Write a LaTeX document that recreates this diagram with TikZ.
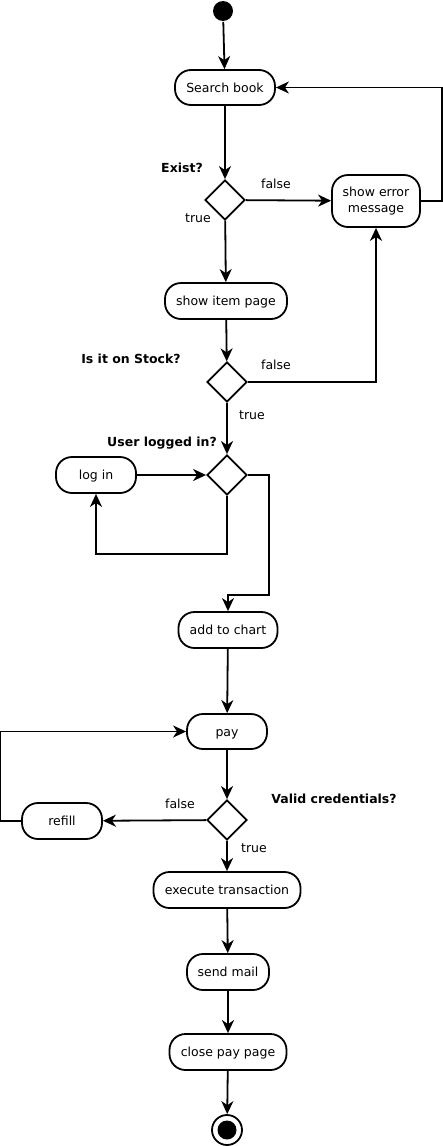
\documentclass[tikz,border=0pt]{standalone}
\usepackage{fontspec}
\setmainfont{DejaVu Sans}
\usepackage{tikz}
\usetikzlibrary{positioning}
\usetikzlibrary{shapes.geometric, arrows.meta}

\begin{document}
\begin{tikzpicture}[
        x=1pt, y=-1pt,
        line width=1.8pt,
        >={Stealth[length=13pt,width=12pt,inset=4pt]},
        every node/.style={font=\fontsize{12.5}{16}\selectfont},
        activity/.style={draw, rectangle, rounded corners=16pt, minimum height=36pt, inner sep=0pt},
        oneline/.style={text height=11pt, text depth=2pt},
        decision/.style={draw, diamond, minimum width=40pt, minimum height=40pt, inner sep=0pt},
        question/.style={font=\fontsize{12.5}{16}\selectfont\bfseries}]

        \useasboundingbox (0,0) rectangle (442,1146);

        \node[circle, fill, minimum size=20pt, inner sep=0pt] (start) at (223,11) {};
        \node[activity, oneline, minimum width=100pt, minimum height=35pt] (search) at (225,87.5) {Search book};
        \node[decision] (exist) at (225,200) {};
        \node[activity, minimum width=88pt, minimum height=52pt, align=center] (error) at (376,201) {show error\\message};
        \node[activity, oneline, minimum width=122pt] (item) at (226,301) {show item page};
        \node[decision] (stock) at (227,382) {};
        \node[decision] (logged) at (227,475) {};
        \node[activity, oneline, minimum width=80pt] (login) at (96,475) {log in};
        \node[activity, oneline, minimum width=99pt] (chart) at (228,630) {add to chart};
        \node[activity, oneline, minimum width=80pt, minimum height=35pt] (pay) at (227,731.5) {pay};
        \node[decision] (valid) at (227,820) {};
        \node[activity, oneline, minimum width=80pt] (refill) at (62,821) {refill};
        \node[activity, oneline, minimum width=147pt] (exec) at (227,890) {execute transaction};
        \node[activity, oneline, minimum width=82pt] (mail) at (228,972) {send mail};
        \node[activity, oneline, minimum width=117pt] (close) at (228,1052) {close pay page};
        \node[circle, draw, minimum size=30pt, inner sep=0pt] (end) at (227,1130) {};
        \node[circle, fill, minimum size=19pt, inner sep=0pt] at (end) {};

        % questions and guards
        \node[question] (qexist) at (182,168) {Exist?};
        \node[question] (qstock) at (131,359) {Is it on Stock?};
        \node[question] (qlogged) at (162,443) {User logged in?};
        \node[question] (qvalid) at (334,799) {Valid credentials?};
        \node (f1) at (276,184) {false};
        \node (t1) at (198,218) {true};
        \node (f2) at (276,365) {false};
        \node (t2) at (252,415) {true};
        \node (f3) at (180,804) {false};
        \node (t3) at (254,848) {true};

        \draw[->] (start) -- (search);
        \draw[->] (search) -- (exist);
        \draw[->] (exist) -- (error);
        \draw[->] (error.east) -- ++(21,0) |- (search.east);
        \draw[->] (exist) -- (item);
        \draw[->] (item) -- (stock);
        \draw[->] (stock.east) -| (error.south);
        \draw[->] (stock) -- (logged);
        \draw[->] (login) -- (logged);
        \draw[->] (logged.south) -- ++(0,58) -| (login.south);
        \draw[->] (logged.east) -- ++(21,0) -- ++(0,120) -| (chart.north);
        \draw[->] (chart) -- (pay);
        \draw[->] (pay) -- (valid);
        \draw[->] (valid) -- (refill);
        \draw[->] (refill.west) -- ++(-21,0) |- (pay.west);
        \draw[->] (valid) -- (exec);
        \draw[->] (exec) -- (mail);
        \draw[->] (mail) -- (close);
        \draw[->] (close) -- (end);

    \end{tikzpicture}
\end{document}
